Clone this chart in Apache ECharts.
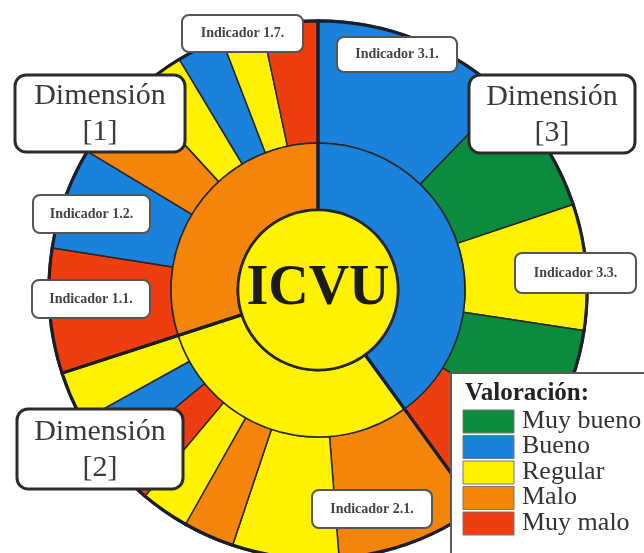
<!DOCTYPE html>
<html>
<head>
<meta charset="utf-8">
<title>ICVU</title>
<script src="https://cdn.jsdelivr.net/npm/echarts@6/dist/echarts.min.js"></script>
<style>
  html, body { margin: 0; padding: 0; background: #fff; }
  #main { width: 644px; height: 553px; }
</style>
</head>
<body>
<div id="main"></div>
<script>
// escala de valoración
var ratingNames = ['Muy bueno', 'Bueno', 'Regular', 'Malo', 'Muy malo'];

// anillo interior: dimensiones (sentido horario desde arriba)
var dimNames = ['Dimensión [3]', 'Dimensión [2]', 'Dimensión [1]'];
var dimWeights = [144, 108, 108];
var dimRatings = ['Bueno', 'Regular', 'Malo'];

// anillo exterior: indicadores
var indNames = [
    'Indicador 3.1.', 'Indicador 3.2.', 'Indicador 3.3.', 'Indicador 3.4.', 'Indicador 3.5.',
    'Indicador 2.1.', 'Indicador 2.2.', 'Indicador 2.3.', 'Indicador 2.4.', 'Indicador 2.5.', 'Indicador 2.6.', 'Indicador 2.7.',
    'Indicador 1.1.', 'Indicador 1.2.', 'Indicador 1.3.', 'Indicador 1.4.', 'Indicador 1.5.', 'Indicador 1.6.', 'Indicador 1.7.'
];
var indWeights = [44, 27.5, 27.2, 23.3, 22, 31.5, 23, 11, 10.5, 10.5, 10.5, 11, 27, 22, 16.5, 11.5, 10, 9, 12];
var indRatings = [
    'Bueno', 'Muy bueno', 'Regular', 'Muy bueno', 'Muy malo',
    'Malo', 'Regular', 'Malo', 'Regular', 'Muy malo', 'Bueno', 'Regular',
    'Muy malo', 'Bueno', 'Malo', 'Regular', 'Bueno', 'Regular', 'Muy malo'
];

var centerName = 'ICVU';
var centerRating = 'Regular';

// colores
var palette = {
    'Muy bueno': '#0b8b3d',
    'Bueno': '#1b82db',
    'Regular': '#fff200',
    'Malo': '#f5840a',
    'Muy malo': '#ee3d0e'
};
var serif = '"Liberation Serif", "DejaVu Serif", serif';
var lineDark = '#262626';
var cx = 318, cy = 290;

function toData(names, values, ratings) {
    return names.map(function (n, i) {
        return { name: n, value: values[i], itemStyle: { color: palette[ratings[i]] } };
    });
}

// cajas de etiquetas
var boxes = [
    { text: 'Dimensión\n[1]', x: 15, y: 75, w: 170, h: 77, big: true },
    { text: 'Dimensión\n[3]', x: 469, y: 75, w: 166, h: 78, big: true },
    { text: 'Dimensión\n[2]', x: 17, y: 409, w: 166, h: 80, big: true },
    { text: 'Indicador 1.7.', x: 182, y: 15, w: 121, h: 37 },
    { text: 'Indicador 3.1.', x: 337, y: 37, w: 120, h: 35 },
    { text: 'Indicador 1.2.', x: 33, y: 195, w: 117, h: 38 },
    { text: 'Indicador 1.1.', x: 32, y: 280, w: 118, h: 38 },
    { text: 'Indicador 3.3.', x: 515, y: 253, w: 121, h: 40 },
    { text: 'Indicador 2.1.', x: 312, y: 490, w: 120, h: 38 }
];

var graphics = [];
boxes.forEach(function (b) {
    graphics.push({
        type: 'rect',
        z: 100,
        shape: { x: b.x, y: b.y, width: b.w, height: b.h, r: b.big ? 11 : 7 },
        style: { fill: '#fff', stroke: b.big ? '#2b2b2b' : '#555', lineWidth: b.big ? 3 : 2 }
    });
    graphics.push({
        type: 'text',
        z: 101,
        x: b.x + b.w / 2,
        y: b.y + b.h / 2 + (b.big ? 1 : 0),
        style: {
            text: b.text,
            align: 'center',
            verticalAlign: 'middle',
            fontFamily: serif,
            fontSize: b.big ? 30 : 14,
            fontWeight: b.big ? 'normal' : 'bold',
            lineHeight: 36,
            fill: b.big ? '#3a3a3a' : '#444'
        }
    });
});

// leyenda
graphics.push({
    type: 'rect',
    z: 100,
    shape: { x: 451, y: 373, width: 200, height: 182 },
    style: { fill: '#fff', stroke: '#5a5a5a', lineWidth: 2 }
});
graphics.push({
    type: 'text', z: 101, x: 465, y: 394,
    style: { text: 'Valoración:', fontFamily: serif, fontSize: 25, fontWeight: 'bold', fill: '#222', verticalAlign: 'middle' }
});
ratingNames.forEach(function (r, i) {
    var top = 410 + i * 25.5;
    graphics.push({
        type: 'rect', z: 101,
        shape: { x: 463, y: top, width: 51, height: 23 },
        style: { fill: palette[r], stroke: '#777', lineWidth: 1 }
    });
    graphics.push({
        type: 'text', z: 101, x: 522, y: top + 11,
        style: { text: r, fontFamily: serif, fontSize: 26, fill: '#333', verticalAlign: 'middle' }
    });
});

var ringBase = {
    type: 'pie',
    center: [cx, cy],
    startAngle: 90,
    clockwise: true,
    silent: true,
    label: { show: false },
    labelLine: { show: false },
    emphasis: { disabled: true }
};

var option = {
    animation: false,
    backgroundColor: '#fff',
    series: [
        Object.assign({}, ringBase, {
            name: 'indicadores',
            radius: [147, 270],
            itemStyle: { borderColor: lineDark, borderWidth: 1.5 },
            data: toData(indNames, indWeights, indRatings)
        }),
        Object.assign({}, ringBase, {
            name: 'dimensiones',
            radius: [80, 147],
            itemStyle: { borderColor: lineDark, borderWidth: 1.5 },
            data: toData(dimNames, dimWeights, dimRatings)
        }),
        // separadores gruesos entre dimensiones
        Object.assign({}, ringBase, {
            name: 'separadores',
            radius: [80, 269],
            itemStyle: { color: 'rgba(0,0,0,0)', borderColor: '#1a1d2b', borderWidth: 3 },
            data: dimNames.map(function (n, i) { return { name: n, value: dimWeights[i] }; })
        }),
        Object.assign({}, ringBase, {
            name: 'centro',
            radius: [0, 80],
            itemStyle: { borderColor: lineDark, borderWidth: 2.5 },
            label: {
                show: true,
                position: 'center',
                formatter: '{b}',
                fontFamily: serif,
                fontSize: 56,
                fontWeight: 'bold',
                color: '#1b1b1b'
            },
            data: [{ name: centerName, value: 1, itemStyle: { color: palette[centerRating] } }]
        })
    ],
    graphic: graphics
};

var myChart = echarts.init(document.getElementById('main'));
myChart.setOption(option);
</script>
</body>
</html>
